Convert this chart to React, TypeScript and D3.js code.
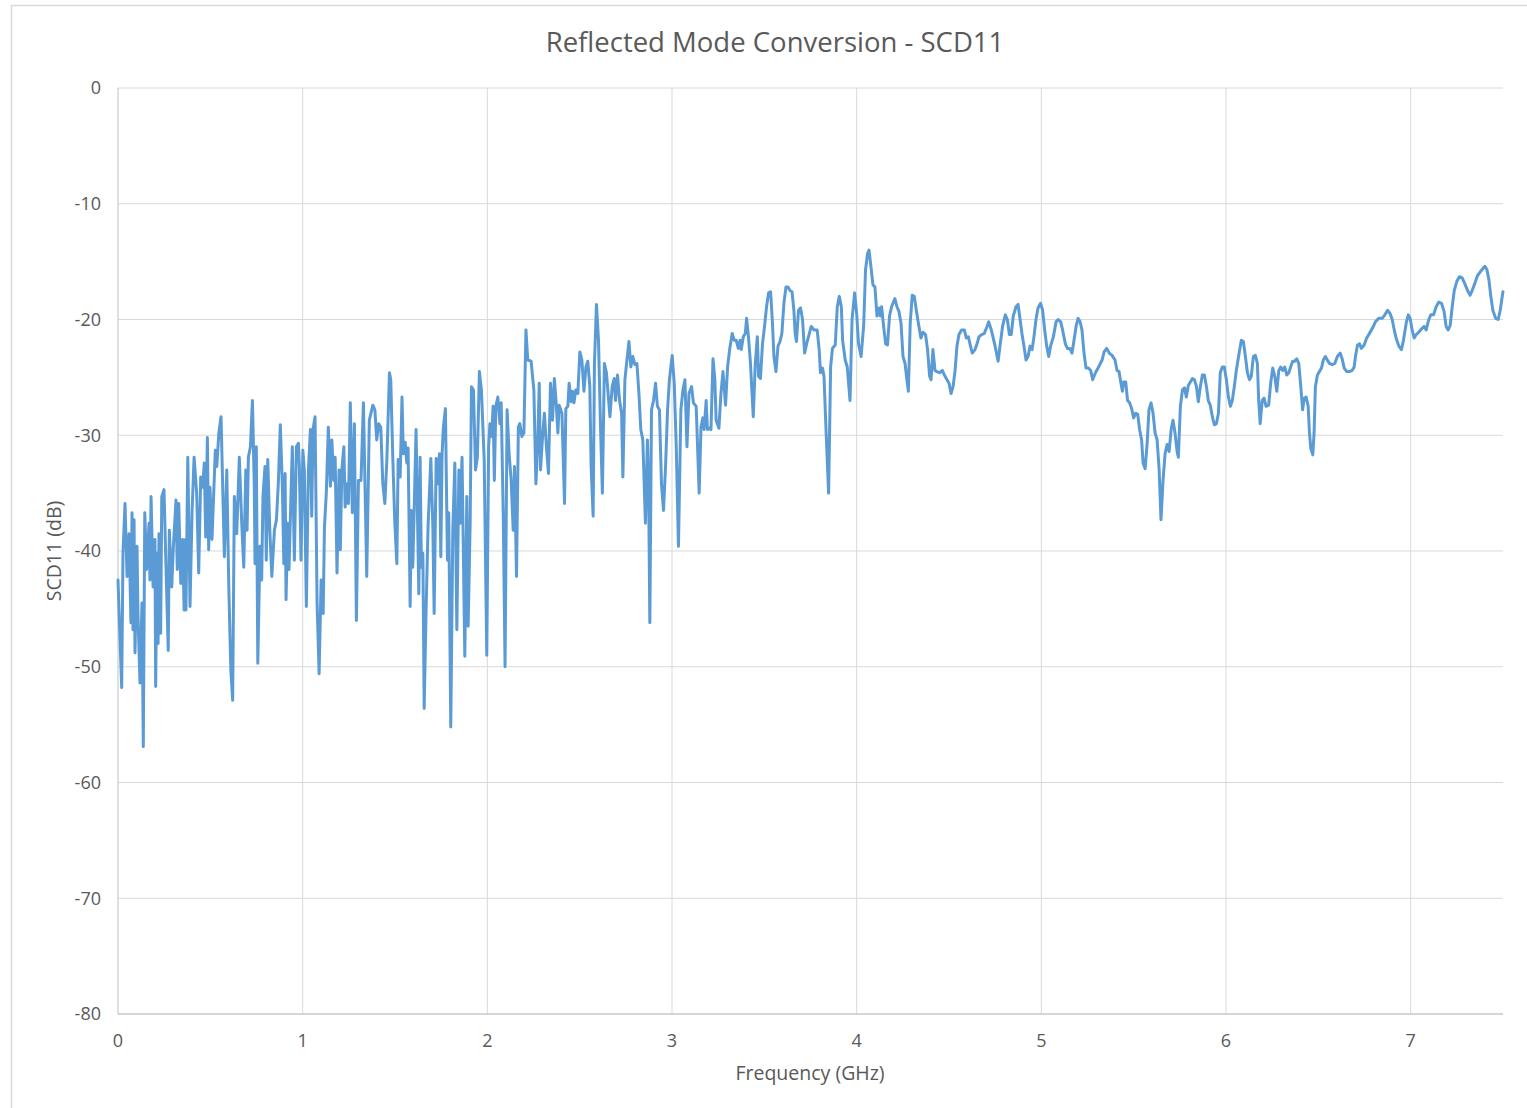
import React from "react";
import * as d3 from "d3";

const frequencyGHz: number[] = [
  0.000, 0.020, 0.027, 0.038, 0.049, 0.060, 0.070, 0.076, 0.081, 0.087, 0.092, 0.103, 0.108, 0.119, 0.130, 0.137,
  0.145, 0.155, 0.168, 0.173, 0.179, 0.190, 0.200, 0.204, 0.211, 0.217, 0.222, 0.231, 0.237, 0.249, 0.260, 0.272,
  0.278, 0.291, 0.300, 0.314, 0.321, 0.329, 0.340, 0.350, 0.358, 0.365, 0.368, 0.378, 0.390, 0.401, 0.412, 0.426,
  0.437, 0.448, 0.459, 0.467, 0.475, 0.484, 0.491, 0.498, 0.509, 0.527, 0.535, 0.546, 0.558, 0.576, 0.589, 0.600,
  0.611, 0.621, 0.630, 0.643, 0.657, 0.670, 0.681, 0.692, 0.699, 0.706, 0.717, 0.728, 0.738, 0.742, 0.749, 0.757,
  0.769, 0.778, 0.785, 0.796, 0.803, 0.811, 0.822, 0.833, 0.847, 0.858, 0.868, 0.879, 0.890, 0.898, 0.905, 0.910,
  0.919, 0.926, 0.937, 0.944, 0.955, 0.966, 0.977, 0.982, 0.991, 1.001, 1.009, 1.020, 1.031, 1.042, 1.049, 1.056,
  1.067, 1.078, 1.089, 1.100, 1.111, 1.118, 1.128, 1.139, 1.150, 1.158, 1.168, 1.176, 1.186, 1.197, 1.204, 1.212,
  1.223, 1.230, 1.241, 1.248, 1.258, 1.269, 1.280, 1.291, 1.302, 1.316, 1.329, 1.347, 1.361, 1.380, 1.391, 1.401,
  1.412, 1.423, 1.434, 1.445, 1.456, 1.470, 1.477, 1.488, 1.499, 1.510, 1.517, 1.528, 1.538, 1.545, 1.555, 1.564,
  1.571, 1.582, 1.589, 1.596, 1.603, 1.614, 1.629, 1.636, 1.643, 1.651, 1.658, 1.668, 1.679, 1.694, 1.705, 1.712,
  1.723, 1.730, 1.741, 1.748, 1.755, 1.762, 1.773, 1.784, 1.791, 1.802, 1.813, 1.824, 1.835, 1.846, 1.853, 1.863,
  1.878, 1.889, 1.896, 1.907, 1.914, 1.925, 1.936, 1.946, 1.957, 1.968, 1.983, 1.997, 2.007, 2.014, 2.024, 2.031,
  2.038, 2.046, 2.057, 2.068, 2.075, 2.086, 2.096, 2.107, 2.118, 2.129, 2.140, 2.147, 2.158, 2.168, 2.176, 2.187,
  2.198, 2.209, 2.219, 2.237, 2.252, 2.263, 2.274, 2.281, 2.288, 2.298, 2.309, 2.320, 2.331, 2.342, 2.353, 2.363,
  2.374, 2.382, 2.389, 2.404, 2.418, 2.425, 2.436, 2.443, 2.454, 2.461, 2.469, 2.479, 2.490, 2.501, 2.512, 2.523,
  2.534, 2.544, 2.555, 2.562, 2.573, 2.580, 2.591, 2.602, 2.613, 2.623, 2.634, 2.645, 2.664, 2.676, 2.687, 2.694,
  2.705, 2.716, 2.727, 2.734, 2.745, 2.756, 2.767, 2.777, 2.788, 2.799, 2.810, 2.821, 2.831, 2.842, 2.856, 2.867,
  2.873, 2.880, 2.889, 2.900, 2.911, 2.921, 2.932, 2.943, 2.954, 2.965, 2.976, 2.986, 3.001, 3.012, 3.023, 3.035,
  3.048, 3.059, 3.070, 3.081, 3.092, 3.106, 3.116, 3.131, 3.147, 3.157, 3.167, 3.174, 3.185, 3.192, 3.203, 3.211,
  3.222, 3.232, 3.239, 3.254, 3.265, 3.276, 3.290, 3.301, 3.312, 3.326, 3.337, 3.348, 3.359, 3.369, 3.375, 3.386,
  3.397, 3.404, 3.414, 3.425, 3.440, 3.451, 3.462, 3.469, 3.479, 3.490, 3.501, 3.512, 3.523, 3.534, 3.544, 3.552,
  3.563, 3.574, 3.585, 3.595, 3.606, 3.617, 3.628, 3.639, 3.650, 3.660, 3.667, 3.674, 3.685, 3.696, 3.707, 3.718,
  3.729, 3.739, 3.754, 3.769, 3.786, 3.797, 3.804, 3.815, 3.823, 3.834, 3.848, 3.859, 3.869, 3.884, 3.895, 3.906,
  3.917, 3.924, 3.938, 3.949, 3.964, 3.975, 3.989, 4.000, 4.010, 4.024, 4.038, 4.048, 4.059, 4.067, 4.077, 4.088,
  4.099, 4.110, 4.121, 4.128, 4.135, 4.146, 4.157, 4.167, 4.178, 4.189, 4.207, 4.218, 4.229, 4.240, 4.251, 4.262,
  4.272, 4.280, 4.290, 4.301, 4.312, 4.323, 4.334, 4.348, 4.359, 4.373, 4.384, 4.395, 4.403, 4.413, 4.424, 4.435,
  4.449, 4.464, 4.475, 4.489, 4.500, 4.511, 4.522, 4.533, 4.543, 4.554, 4.568, 4.583, 4.594, 4.605, 4.615, 4.626,
  4.641, 4.652, 4.662, 4.677, 4.691, 4.706, 4.715, 4.729, 4.747, 4.766, 4.776, 4.790, 4.805, 4.816, 4.827, 4.837,
  4.848, 4.863, 4.874, 4.885, 4.895, 4.906, 4.917, 4.928, 4.939, 4.950, 4.960, 4.971, 4.982, 4.996, 5.007, 5.018,
  5.029, 5.040, 5.050, 5.065, 5.080, 5.091, 5.105, 5.115, 5.130, 5.141, 5.155, 5.166, 5.177, 5.188, 5.199, 5.210,
  5.220, 5.231, 5.242, 5.256, 5.267, 5.278, 5.293, 5.310, 5.329, 5.340, 5.354, 5.368, 5.383, 5.399, 5.410, 5.421,
  5.428, 5.439, 5.446, 5.457, 5.467, 5.478, 5.489, 5.500, 5.511, 5.522, 5.532, 5.543, 5.551, 5.562, 5.573, 5.583,
  5.594, 5.605, 5.616, 5.627, 5.638, 5.648, 5.659, 5.670, 5.681, 5.692, 5.703, 5.713, 5.724, 5.735, 5.742, 5.753,
  5.764, 5.775, 5.785, 5.796, 5.807, 5.818, 5.829, 5.840, 5.850, 5.861, 5.872, 5.883, 5.894, 5.904, 5.915, 5.926,
  5.937, 5.948, 5.959, 5.969, 5.980, 5.991, 6.002, 6.013, 6.024, 6.034, 6.045, 6.056, 6.068, 6.083, 6.094, 6.105,
  6.116, 6.127, 6.137, 6.148, 6.159, 6.170, 6.177, 6.185, 6.196, 6.206, 6.217, 6.231, 6.242, 6.253, 6.264, 6.275,
  6.286, 6.296, 6.307, 6.318, 6.329, 6.340, 6.350, 6.361, 6.372, 6.383, 6.394, 6.405, 6.415, 6.423, 6.434, 6.445,
  6.452, 6.459, 6.470, 6.477, 6.484, 6.495, 6.506, 6.517, 6.527, 6.538, 6.549, 6.560, 6.575, 6.589, 6.603, 6.618,
  6.629, 6.640, 6.654, 6.669, 6.683, 6.694, 6.701, 6.712, 6.723, 6.733, 6.748, 6.762, 6.777, 6.795, 6.809, 6.827,
  6.846, 6.860, 6.875, 6.889, 6.900, 6.911, 6.921, 6.936, 6.950, 6.961, 6.976, 6.987, 6.997, 7.008, 7.019, 7.030,
  7.044, 7.059, 7.073, 7.084, 7.098, 7.109, 7.124, 7.138, 7.152, 7.167, 7.181, 7.192, 7.203, 7.214, 7.225, 7.236,
  7.250, 7.264, 7.279, 7.293, 7.308, 7.322, 7.333, 7.347, 7.362, 7.376, 7.391, 7.402, 7.413, 7.424, 7.434, 7.445,
  7.460, 7.474, 7.485, 7.496, 7.500,
];

const scd11dB: number[] = [
  -42.5, -51.8, -40.2, -35.9, -42.2, -38.5, -46.2, -36.7, -46.8, -37.3, -48.8, -39.6, -45.4, -51.4, -44.5, -56.9,
  -36.7, -41.6, -37.6, -42.5, -35.3, -43.1, -39.0, -51.7, -40.2, -48.0, -38.5, -47.1, -35.3, -34.7, -41.4, -48.6,
  -38.2, -43.1, -39.6, -35.6, -41.6, -35.9, -42.8, -39.0, -45.1, -39.0, -45.1, -31.9, -44.8, -36.7, -31.9, -35.0,
  -41.9, -33.6, -34.5, -32.4, -38.8, -30.2, -39.9, -34.5, -39.0, -31.3, -32.7, -29.8, -28.4, -40.5, -33.0, -43.1,
  -50.3, -52.9, -35.3, -38.5, -31.9, -37.6, -41.4, -33.0, -38.2, -31.9, -31.0, -27.0, -34.4, -41.1, -31.0, -49.7,
  -39.6, -42.5, -35.3, -32.7, -40.8, -32.1, -38.2, -42.2, -38.2, -37.3, -34.2, -29.1, -34.4, -41.1, -33.3, -44.2,
  -37.6, -41.6, -35.0, -31.0, -40.8, -31.0, -30.7, -32.7, -40.8, -31.3, -33.0, -44.8, -33.0, -29.5, -37.0, -29.5,
  -28.4, -44.5, -50.6, -42.5, -45.4, -37.9, -35.0, -29.3, -34.4, -30.4, -33.9, -31.9, -41.9, -33.0, -39.9, -33.0,
  -31.0, -36.2, -34.2, -35.9, -27.2, -36.7, -29.0, -46.0, -33.9, -33.9, -27.2, -42.2, -28.7, -27.4, -27.8, -30.4,
  -29.0, -29.3, -34.2, -35.9, -32.1, -24.6, -25.2, -31.9, -37.6, -41.1, -32.1, -33.6, -26.7, -31.6, -30.6, -32.4,
  -31.1, -44.8, -36.5, -41.4, -37.0, -29.5, -43.7, -31.9, -41.4, -40.2, -53.6, -45.4, -37.9, -32.0, -37.9, -45.4,
  -32.0, -34.2, -31.6, -40.5, -31.6, -29.3, -27.7, -40.8, -36.7, -55.2, -38.2, -32.4, -46.8, -33.0, -37.6, -31.9,
  -49.1, -35.3, -46.5, -37.6, -25.8, -26.1, -33.0, -31.9, -24.5, -26.1, -32.1, -49.0, -31.0, -29.0, -30.1, -27.5,
  -33.9, -27.5, -26.7, -29.0, -27.2, -36.7, -50.0, -27.8, -31.6, -33.9, -38.2, -32.7, -42.2, -29.3, -29.0, -30.1,
  -29.8, -20.9, -23.5, -23.6, -26.1, -34.2, -30.1, -25.5, -33.0, -30.4, -28.1, -31.0, -33.3, -25.5, -28.7, -25.1,
  -27.5, -29.8, -27.4, -28.1, -35.9, -27.7, -27.5, -25.5, -27.1, -26.2, -27.2, -26.1, -26.4, -22.8, -23.5, -26.2,
  -24.1, -23.6, -25.8, -32.7, -37.0, -23.8, -18.7, -21.8, -29.3, -35.0, -23.8, -24.6, -28.4, -25.8, -25.1, -27.0,
  -24.8, -27.0, -28.1, -33.6, -25.2, -23.5, -21.9, -24.1, -23.2, -23.9, -23.8, -26.4, -29.5, -30.4, -37.6, -30.4,
  -33.9, -46.2, -27.8, -27.0, -25.5, -27.5, -27.8, -34.2, -36.5, -32.7, -27.8, -25.2, -23.1, -25.5, -31.0, -39.6,
  -27.8, -26.1, -25.2, -31.0, -26.4, -25.8, -27.2, -27.5, -35.0, -29.3, -28.5, -29.5, -27.0, -29.5, -29.4, -29.5,
  -23.4, -25.2, -28.7, -29.4, -26.4, -24.5, -27.4, -24.1, -22.6, -21.2, -21.8, -21.8, -22.5, -21.8, -22.6, -21.5,
  -21.2, -19.9, -21.5, -23.8, -28.4, -23.8, -21.5, -24.9, -25.1, -22.1, -20.6, -18.9, -17.7, -17.6, -20.3, -23.2,
  -24.5, -22.3, -21.9, -21.2, -18.6, -17.2, -17.2, -17.5, -17.6, -19.2, -21.2, -21.9, -19.2, -19.0, -20.0, -22.9,
  -22.1, -21.5, -20.6, -20.9, -20.9, -22.6, -24.6, -24.2, -24.9, -29.5, -35.0, -24.1, -22.5, -22.2, -18.9, -18.0,
  -18.9, -21.8, -23.5, -24.1, -27.0, -20.0, -17.7, -19.5, -22.1, -23.2, -20.5, -15.7, -14.3, -14.0, -15.4, -17.0,
  -17.2, -19.7, -19.0, -19.7, -18.9, -20.6, -22.1, -22.2, -19.7, -18.9, -18.2, -18.9, -19.3, -20.3, -23.2, -23.8,
  -25.2, -26.2, -20.3, -17.9, -18.0, -19.2, -20.3, -21.6, -21.1, -21.3, -22.6, -24.9, -25.2, -22.6, -24.4, -24.5,
  -24.6, -24.4, -24.8, -25.2, -25.5, -26.4, -25.8, -24.4, -22.3, -21.3, -20.9, -20.9, -21.6, -21.5, -22.2, -22.9,
  -22.6, -22.1, -21.5, -21.3, -21.2, -20.6, -20.2, -20.9, -22.1, -23.6, -22.3, -20.6, -19.6, -20.0, -21.3, -21.3,
  -19.7, -18.9, -18.7, -20.0, -21.2, -22.3, -23.5, -23.2, -22.3, -22.6, -21.5, -20.0, -19.0, -18.6, -19.2, -20.9,
  -22.3, -23.2, -22.3, -21.5, -20.2, -20.0, -20.2, -20.9, -22.1, -22.5, -22.5, -22.9, -21.8, -20.6, -19.9, -20.2,
  -20.9, -22.9, -24.2, -24.2, -24.4, -25.2, -24.6, -24.1, -23.5, -22.8, -22.5, -22.9, -23.1, -23.5, -24.4, -24.5,
  -25.2, -26.2, -25.4, -25.4, -27.0, -27.2, -27.7, -28.5, -28.1, -28.2, -29.5, -30.4, -32.4, -32.9, -30.7, -27.8,
  -27.2, -28.1, -29.8, -30.4, -33.0, -37.3, -33.9, -31.6, -30.8, -31.4, -29.5, -28.7, -29.8, -31.4, -31.9, -27.5,
  -26.1, -25.9, -26.7, -25.7, -25.4, -25.1, -25.2, -25.8, -27.1, -25.8, -24.8, -24.8, -25.8, -27.0, -27.4, -28.4,
  -29.1, -29.0, -28.1, -24.6, -24.1, -24.1, -25.2, -26.7, -27.5, -27.0, -25.8, -24.4, -23.2, -21.8, -21.9, -23.2,
  -24.6, -25.2, -24.9, -23.2, -23.1, -23.8, -27.0, -29.0, -27.0, -26.8, -27.5, -27.4, -25.5, -24.2, -24.9, -26.2,
  -24.4, -24.1, -24.4, -24.1, -24.8, -24.6, -24.1, -23.6, -23.6, -23.4, -23.8, -25.8, -27.8, -26.8, -26.7, -27.5,
  -29.8, -31.1, -31.7, -29.8, -25.8, -24.8, -24.5, -24.2, -23.5, -23.2, -23.5, -23.8, -23.9, -23.8, -23.2, -22.9,
  -23.4, -24.2, -24.5, -24.5, -24.4, -24.1, -23.2, -22.2, -22.1, -22.5, -22.2, -21.6, -21.2, -20.7, -20.2, -19.9,
  -19.9, -19.6, -19.2, -19.5, -20.0, -20.9, -21.6, -22.3, -22.6, -21.8, -20.3, -19.6, -19.9, -20.9, -21.6, -21.3,
  -21.1, -20.8, -20.6, -20.9, -20.0, -19.6, -19.6, -18.9, -18.5, -18.6, -19.3, -20.6, -20.9, -20.5, -18.9, -17.5,
  -16.7, -16.3, -16.4, -16.9, -17.5, -17.9, -17.5, -16.9, -16.2, -15.9, -15.6, -15.4, -15.7, -16.6, -18.0, -19.2,
  -19.9, -20.0, -19.2, -18.0, -17.6,
];

const xTicks: number[] = [0, 1, 2, 3, 4, 5, 6, 7];
const yTicks: number[] = [0, -10, -20, -30, -40, -50, -60, -70, -80];

const chartTitle = "Reflected Mode Conversion - SCD11";
const xAxisTitle = "Frequency (GHz)";
const yAxisTitle = "SCD11 (dB)";

const W = 1527;
const H = 1108;
const plot = { left: 118, right: 1503, top: 88, bottom: 1014 };
const FONT = "'Open Sans', 'Noto Sans', sans-serif";
const TEXT = "#595959";

export default function App() {
  const x = d3.scaleLinear().domain([0, 7.5]).range([plot.left, plot.right]);
  const y = d3.scaleLinear().domain([-80, 0]).range([plot.bottom, plot.top]);

  const pts: [number, number][] = frequencyGHz.map((f, i) => [f, scd11dB[i]]);
  const lineGen = d3
    .line<[number, number]>()
    .x((d) => x(d[0]))
    .y((d) => y(d[1]));

  return (
    <svg
      width={W}
      height={H}
      style={{ position: "absolute", left: 0, top: 0, background: "#ffffff" }}
    >
      <rect x={0} y={0} width={W} height={H} fill="#ffffff" />
      <rect x={11.5} y={5.5} width={W + 20} height={H + 20} fill="none" stroke="#d9d9d9" strokeWidth={1.5} />

      {yTicks.map((t) => (
        <line key={"gy" + t} x1={plot.left} x2={plot.right} y1={y(t)} y2={y(t)} stroke="#d9d9d9" strokeWidth={1} />
      ))}
      {xTicks.filter((t) => t > 0).map((t) => (
        <line key={"gx" + t} x1={x(t)} x2={x(t)} y1={plot.top} y2={plot.bottom} stroke="#d9d9d9" strokeWidth={1} />
      ))}
      <line x1={plot.left} x2={plot.left} y1={plot.top} y2={plot.bottom} stroke="#bfbfbf" strokeWidth={1} />
      <line x1={plot.left} x2={plot.right} y1={plot.bottom} y2={plot.bottom} stroke="#bfbfbf" strokeWidth={1} />

      {yTicks.map((t) => (
        <text
          key={"ty" + t}
          x={101}
          y={y(t)}
          dy="0.35em"
          textAnchor="end"
          fontFamily={FONT}
          fontSize={18}
          fill={TEXT}
        >
          {t}
        </text>
      ))}
      {xTicks.map((t) => (
        <text
          key={"tx" + t}
          x={x(t)}
          y={1047}
          textAnchor="middle"
          fontFamily={FONT}
          fontSize={18}
          fill={TEXT}
        >
          {t}
        </text>
      ))}

      <path
        d={lineGen(pts) || ""}
        fill="none"
        stroke="#5b9bd5"
        strokeWidth={3}
        strokeLinejoin="round"
        strokeLinecap="round"
      />

      <text x={775} y={52} textAnchor="middle" fontFamily={FONT} fontSize={27.5} fill={TEXT}>
        {chartTitle}
      </text>
      <text x={810} y={1080} textAnchor="middle" fontFamily={FONT} fontSize={19.5} fill={TEXT}>
        {xAxisTitle}
      </text>
      <text
        transform={`translate(61, ${(plot.top + plot.bottom) / 2}) rotate(-90)`}
        textAnchor="middle"
        fontFamily={FONT}
        fontSize={19.5}
        fill={TEXT}
      >
        {yAxisTitle}
      </text>
    </svg>
  );
}
